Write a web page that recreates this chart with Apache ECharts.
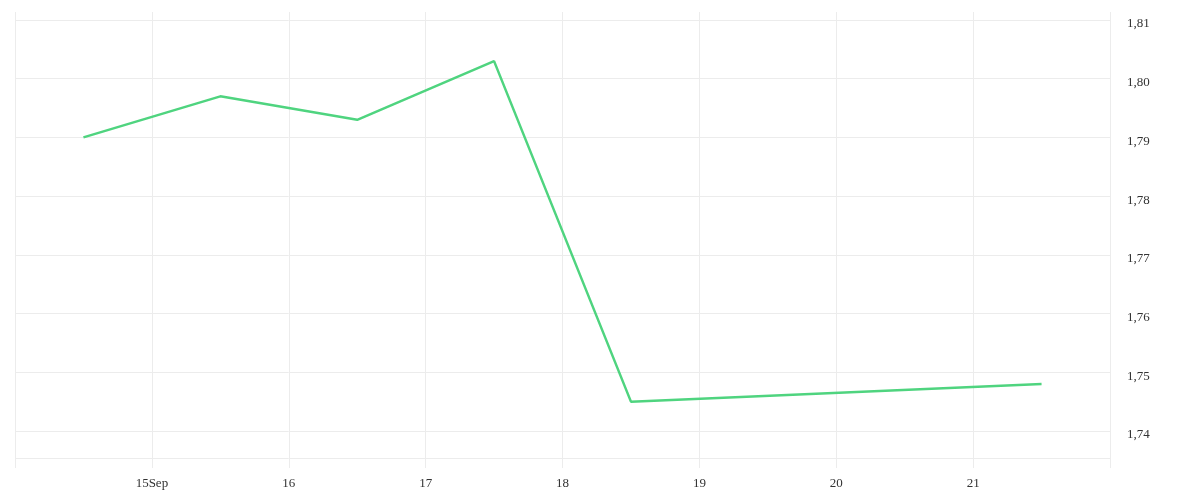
<!DOCTYPE html>
<html><head><meta charset="utf-8">
<script src="https://cdn.jsdelivr.net/npm/echarts@6/dist/echarts.min.js"></script>
<style>html,body{margin:0;padding:0;background:#fff}#c{width:1200px;height:500px}</style>
</head><body><div id="c"></div>
<script>
// day-of-September positions (noon = .5)
const xDays = [14.5, 15.5, 16.5, 17.5, 18.5, 21.5];
const values = [1.790, 1.797, 1.793, 1.803, 1.745, 1.748];
const xTickLabels = {15: '15Sep', 16: '16', 17: '17', 18: '18', 19: '19', 20: '20', 21: '21'};
const yMin = 1.7354, yMax = 1.81;

const font = 'Liberation Serif';
const chart = echarts.init(document.getElementById('c'));
chart.setOption({
  animation: false,
  grid: [
    {left: 15, right: 90, top: 12, bottom: 32},
    {left: 15, right: 90, top: 20, bottom: 42}
  ],
  xAxis: [
    {gridIndex: 0, type: 'value', min: 14, max: 22, interval: 1,
     axisLine: {show: false}, axisTick: {show: false},
     splitLine: {show: true, lineStyle: {color: '#ececec', width: 1}},
     axisLabel: {color: '#333', fontFamily: font, fontSize: 13, margin: 9,
       showMinLabel: false, showMaxLabel: false,
       formatter: v => xTickLabels[Math.round(v)] || ''}},
    {gridIndex: 1, type: 'value', min: 14, max: 22, show: false}
  ],
  yAxis: [
    {gridIndex: 0, type: 'value', show: false},
    {gridIndex: 1, type: 'value', position: 'right', min: yMin, max: yMax, splitNumber: 7,
     axisLine: {show: false}, axisTick: {show: false},
     splitLine: {show: true, lineStyle: {color: '#ececec', width: 1}},
     axisLabel: {color: '#333', fontFamily: font, fontSize: 13, margin: 17,
       verticalAlign: 'top', lineHeight: 8,
       formatter: v => {
         const r = Math.round(v * 100) / 100;
         if (Math.abs(r - v) > 1e-6) return '';
         return r.toFixed(2).replace('.', ',');
       }}}
  ],
  series: [{
    type: 'line', xAxisIndex: 1, yAxisIndex: 1,
    data: xDays.map((d, i) => [d, values[i]]),
    showSymbol: false, symbol: 'none',
    lineStyle: {color: '#4fd47f', width: 2.5},
    itemStyle: {color: '#4fd47f'}
  }]
});
</script></body></html>
